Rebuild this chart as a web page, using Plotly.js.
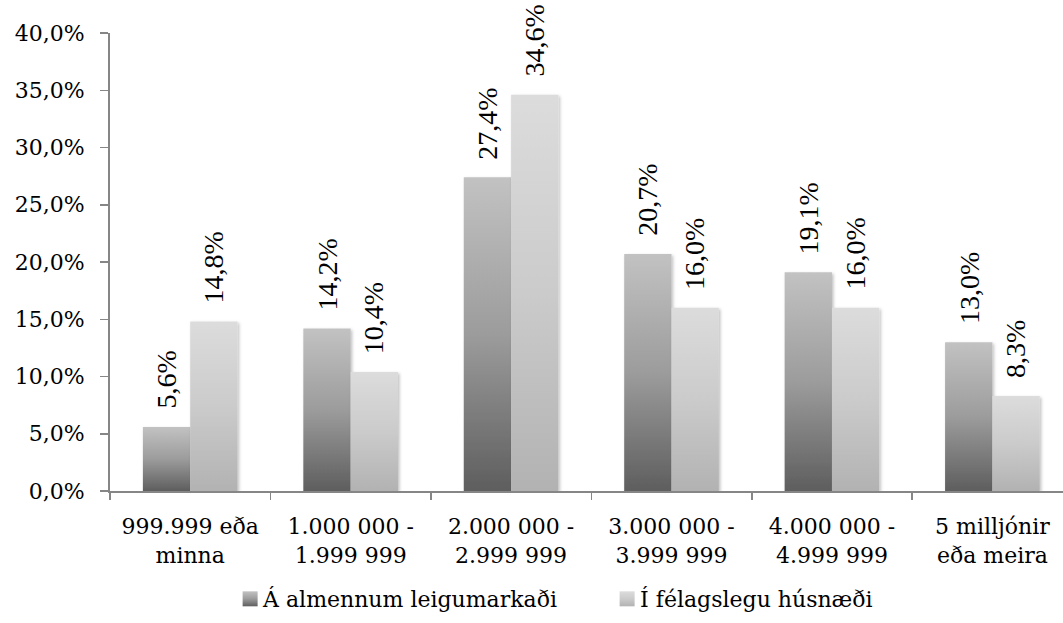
<!DOCTYPE html>
<html>
<head>
<meta charset="utf-8">
<script src="https://cdn.plot.ly/plotly-3.0.1.min.js"></script>
<style>
  html, body { margin: 0; padding: 0; background: #fff; overflow: hidden; }
  #chart { width: 1063px; height: 623px; }
</style>
</head>
<body>
<div id="chart"></div>
<script>
// Income bands (ISK per year)
const categories = [
  '999.999 eða<br>minna',
  '1.000 000 -<br>1.999 999',
  '2.000 000 -<br>2.999 999',
  '3.000 000 -<br>3.999 999',
  '4.000 000 -<br>4.999 999',
  '5 milljónir<br>eða meira'
];
const seriesNames = ['Á almennum leigumarkaði', 'Í félagslegu húsnæði'];
// Share of households in each band (%)
const almennum = [5.6, 14.2, 27.4, 20.7, 19.1, 13.0];
const felagslegu = [14.8, 10.4, 34.6, 16.0, 16.0, 8.3];

const yTicks = [0, 5, 10, 15, 20, 25, 30, 35, 40];

const BARGAP = 0.41;
const serifTick = '"DejaVu Serif", serif';
const serifLabel = '"Liberation Serif", "Times New Roman", serif';

function fmt(v) {
  return v.toFixed(1).replace('.', ',') + '%';
}

const seriesValues = [almennum, felagslegu];
const traces = seriesValues.map((vals, s) => ({
  type: 'bar',
  name: seriesNames[s],
  x: categories,
  y: vals,
  marker: { color: s === 0 ? '#8f8f8f' : '#c8c8c8', line: { width: 0 } },
  hoverinfo: 'skip'
}));

// Value labels above each bar, rotated
const barW = (1 - BARGAP) / 2;
const annotations = [];
seriesValues.forEach((vals, s) => {
  const off = (s === 0 ? -1 : 1) * barW / 2;
  vals.forEach((v, i) => {
    annotations.push({
      x: i + off, y: v, xref: 'x', yref: 'y',
      text: fmt(v), textangle: -90, showarrow: false,
      xanchor: 'center', yanchor: 'bottom', yshift: 16,
      font: { family: serifLabel, size: 28, color: '#000' }
    });
  });
});

const layout = {
  width: 1063, height: 623,
  margin: { l: 110, r: 0, t: 33, b: 132, autoexpand: false },
  paper_bgcolor: '#fff', plot_bgcolor: '#fff',
  separators: ', ',
  barmode: 'group', bargap: BARGAP, bargroupgap: 0,
  showlegend: true,
  legend: {
    orientation: 'h', x: 0.1187, xanchor: 'left', y: -0.19, yanchor: 'top',
    entrywidth: 332, entrywidthmode: 'pixels',
    font: { family: serifTick, size: 22, color: '#000' },
    itemclick: false, itemdoubleclick: false
  },
  xaxis: {
    type: 'category',
    range: [-0.5, 5.44],
    showline: true, linecolor: '#868686', linewidth: 2,
    ticks: 'outside', tickson: 'boundaries', ticklen: 7, tickcolor: '#868686', tickwidth: 1.5,
    ticklabelstandoff: 15,
    tickfont: { family: serifTick, size: 22, color: '#000' },
    showgrid: false, zeroline: false, fixedrange: true
  },
  yaxis: {
    range: [0, 40],
    tickmode: 'array',
    tickvals: yTicks,
    ticktext: yTicks.map(fmt),
    showline: true, linecolor: '#868686', linewidth: 2,
    ticks: 'outside', ticklen: 8, tickcolor: '#868686', tickwidth: 1.5,
    ticklabelstandoff: 11,
    tickfont: { family: serifTick, size: 22, color: '#000' },
    showgrid: false, zeroline: false, fixedrange: true
  },
  annotations: annotations
};

// Vertical gray gradients for the two series
const gradients = [
  { id: 'gradAlmennum', top: '#c2c2c2', mid: '#9c9c9c', bottom: '#5e5e5e' },
  { id: 'gradFelagslegu', top: '#dcdcdc', mid: '#cbcbcb', bottom: '#b2b2b2' }
];

function applyGradients(gd) {
  const svg = gd.querySelector('svg.main-svg');
  const ns = 'http://www.w3.org/2000/svg';
  let defs = svg.querySelector('defs');
  if (!defs) { defs = document.createElementNS(ns, 'defs'); svg.insertBefore(defs, svg.firstChild); }
  gradients.forEach(g => {
    if (defs.querySelector('#' + g.id)) return;
    const lg = document.createElementNS(ns, 'linearGradient');
    lg.setAttribute('id', g.id);
    lg.setAttribute('x1', '0'); lg.setAttribute('y1', '0');
    lg.setAttribute('x2', '0'); lg.setAttribute('y2', '1');
    [[0, g.top], [0.5, g.mid], [1, g.bottom]].forEach(([o, c]) => {
      const st = document.createElementNS(ns, 'stop');
      st.setAttribute('offset', o);
      st.setAttribute('stop-color', c);
      lg.appendChild(st);
    });
    defs.appendChild(lg);
  });
  if (!defs.querySelector('#barShadow')) {
    const f = document.createElementNS(ns, 'filter');
    f.setAttribute('id', 'barShadow');
    f.setAttribute('x', '-20%'); f.setAttribute('y', '-5%');
    f.setAttribute('width', '140%'); f.setAttribute('height', '110%');
    const ds = document.createElementNS(ns, 'feDropShadow');
    ds.setAttribute('dx', '1.5'); ds.setAttribute('dy', '1.5');
    ds.setAttribute('stdDeviation', '1.5');
    ds.setAttribute('flood-color', '#000');
    ds.setAttribute('flood-opacity', '0.25');
    f.appendChild(ds);
    defs.appendChild(f);
  }
  const barTraces = gd.querySelectorAll('.barlayer .trace.bars');
  barTraces.forEach((t, s) => {
    t.querySelectorAll('path').forEach(p => {
      p.style.fill = 'url(#' + gradients[s].id + ')';
      p.setAttribute('filter', 'url(#barShadow)');
    });
  });
  // Legend swatches: larger squares sitting close to their text, same gradient
  const legendTraces = gd.querySelectorAll('.legend .traces');
  legendTraces.forEach((t, s) => {
    t.querySelectorAll('.legendpoints path').forEach(p => {
      p.setAttribute('d', 'M14.5,7.5H-0.5V-7.5H14.5Z');
      p.style.fill = 'url(#' + gradients[s].id + ')';
      p.style.stroke = 'none';
    });
  });
}

const gd = document.getElementById('chart');
Plotly.newPlot(gd, traces, layout, { displayModeBar: false, staticPlot: true })
  .then(() => applyGradients(gd));
</script>
</body>
</html>
